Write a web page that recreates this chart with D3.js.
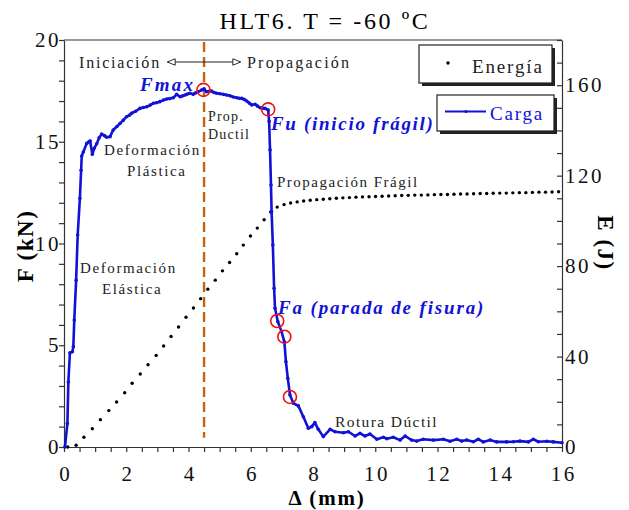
<!DOCTYPE html>
<html>
<head>
<meta charset="utf-8">
<script src="https://cdn.jsdelivr.net/npm/d3@7"></script>
<style>
  body { margin: 0; background: #fff; }
  text { font-family: "Liberation Serif", "DejaVu Serif", serif; }
</style>
</head>
<body>
<div id="chart"></div>
<script>
// carga (kN) vs desplazamiento (mm)
const loadX = [0.03, 0.11, 0.14, 0.19, 0.27, 0.30, 0.33, 0.39, 0.44, 0.51, 0.55, 0.57, 0.62, 0.73, 0.80, 0.84,
  0.91, 0.97, 1.05, 1.13, 1.21, 1.30, 1.37, 1.48, 1.58, 1.70, 1.80, 1.90, 2.01, 2.10, 2.17, 2.30, 2.44,
  2.55, 2.66, 2.77, 2.87, 2.97, 3.08, 3.20, 3.30, 3.40, 3.51, 3.62, 3.73, 3.80, 3.89, 3.97, 4.05, 4.15,
  4.23, 4.31, 4.42, 4.50, 4.58, 4.66, 4.74, 4.82, 4.90, 5.01, 5.12, 5.22, 5.33, 5.44, 5.55, 5.63, 5.71,
  5.79, 5.87, 5.95, 6.03, 6.14, 6.22, 6.30, 6.38, 6.46, 6.56, 6.59, 6.62, 6.65, 6.67, 6.71, 6.75, 6.78,
  6.87, 6.99, 7.08, 7.13, 7.19, 7.26, 7.37, 7.53, 7.69, 7.85, 7.96, 8.06, 8.17, 8.33, 8.55, 8.71, 8.98,
  9.14, 9.35, 9.51, 9.67, 9.83, 10.05, 10.26, 10.37, 10.58, 10.80, 10.96, 11.17, 11.33, 11.54, 11.87,
  12.19, 12.40, 12.62, 12.78, 12.94, 13.15, 13.31, 13.47, 13.69, 13.90, 14.22, 14.44, 14.65, 14.92,
  15.08, 15.24, 15.51, 15.72, 16.00];
const loadF = [0.0, 1.16, 3.2, 4.63, 4.68, 4.93, 6.24, 8.2, 10.42, 12.22, 13.6, 14.3, 14.5, 14.92, 15.0, 15.04,
  14.38, 14.68, 14.9, 15.2, 15.38, 15.3, 15.22, 15.25, 15.58, 15.75, 15.9, 16.05, 16.23, 16.3, 16.4, 16.5, 16.64,
  16.68, 16.72, 16.8, 16.89, 16.92, 16.97, 17.05, 17.1, 17.12, 17.16, 17.33, 17.21, 17.25, 17.3, 17.35, 17.38, 17.33,
  17.4, 17.46, 17.54, 17.59, 17.46, 17.48, 17.49, 17.42, 17.38, 17.36, 17.33, 17.3, 17.26, 17.2, 17.16, 17.14, 17.13,
  17.08, 17.0, 16.9, 16.81, 16.84, 16.75, 16.67, 16.65, 16.64, 16.56, 16.0, 14.6, 12.87, 11.56, 9.93, 7.8, 6.82,
  6.16, 5.67, 5.17, 4.19, 3.38, 2.56, 2.15, 2.02, 1.49, 0.92, 1.0, 1.2, 0.87, 0.51, 0.87, 0.75, 0.70,
  0.75, 0.54, 0.67, 0.54, 0.64, 0.38, 0.48, 0.41, 0.48, 0.34, 0.54, 0.34, 0.29, 0.38, 0.34,
  0.38, 0.28, 0.38, 0.29, 0.34, 0.26, 0.38, 0.25, 0.34, 0.25, 0.25, 0.26, 0.29, 0.25,
  0.38, 0.26, 0.28, 0.25, 0.21];

// energía (J)
const energyX = [0.12, 0.39, 0.64, 0.91, 1.17, 1.44, 1.69, 1.95, 2.19, 2.45, 2.70, 2.96, 3.20, 3.44, 3.68, 3.92,
  4.16, 4.39, 4.62, 4.86, 5.09, 5.32, 5.55, 5.76, 5.99, 6.21, 6.43, 6.64, 6.85, 7.07, 7.28, 7.49, 7.70, 7.91,
  8.12, 8.33, 8.54, 8.75, 8.96, 9.17, 9.38, 9.59, 9.80, 10.01, 10.22, 10.43, 10.64, 10.85, 11.06, 11.27,
  11.48, 11.69, 11.90, 12.11, 12.32, 12.53, 12.74, 12.95, 13.16, 13.37, 13.58, 13.79, 14.00, 14.21, 14.42,
  14.63, 14.84, 15.05, 15.26, 15.47, 15.68, 15.89];
const energyE = [0.0, 0.75, 4.3, 8.1, 12.1, 16.1, 19.9, 24.0, 28.2, 32.3, 36.4, 40.5, 44.7, 48.9, 53.1, 57.4,
  61.5, 65.6, 69.8, 73.8, 77.9, 81.6, 85.5, 89.3, 93.3, 96.8, 100.5, 103.9, 106.1, 107.2, 107.9, 108.4, 108.8, 109.1,
  109.4, 109.6, 109.8, 110.0, 110.2, 110.3, 110.5, 110.6, 110.7, 110.8, 110.9, 111.0, 111.1, 111.2, 111.3, 111.4,
  111.4, 111.5, 111.6, 111.7, 111.7, 111.8, 111.9, 111.9, 112.0, 112.1, 112.1, 112.2, 112.3, 112.3, 112.4,
  112.5, 112.5, 112.6, 112.7, 112.7, 112.8, 112.9];

// puntos marcados (Fmax, Fu, Fa...)
const markX = [4.48, 6.56, 6.85, 7.08, 7.26];
const markF = [17.55, 16.59, 6.19, 5.42, 2.46];

const xTicks = [0, 2, 4, 6, 8, 10, 12, 14, 16];
const fTicks = [0, 5, 10, 15, 20];
const eTicks = [0, 40, 80, 120, 160];

const blue = "#1212d6";
const W = 629, H = 510;
const margin = {top: 40, right: 67, bottom: 63, left: 64};
const width = W - margin.left - margin.right,
  height = H - margin.top - margin.bottom;

const svg = d3.select("#chart").append("svg")
  .attr("width", W).attr("height", H);
const g = svg.append("g")
  .attr("transform", "translate(" + margin.left + "," + margin.top + ")");

const x = d3.scaleLinear().domain([0, 16]).range([0, width]);
const yF = d3.scaleLinear().domain([0, 20]).range([height, 0]);
const yE = d3.scaleLinear().domain([0, 180]).range([height, 0]);

// axes
function styleAxis(sel) {
  sel.selectAll("path, line").attr("stroke", "#333").attr("stroke-width", 1.2);
  sel.selectAll("text").attr("font-size", 21).attr("fill", "#111").attr("letter-spacing", 2.5)
    .attr("font-family", "Liberation Serif, serif");
}
g.append("g").attr("transform", "translate(0," + height + ")")
  .call(d3.axisBottom(x).tickValues(d3.range(0, 16.01, 0.5)).tickSize(5).tickSizeOuter(0)
    .tickFormat(d => xTicks.includes(d) ? d : ""))
  .call(styleAxis)
  .call(s => s.selectAll("text").attr("y", 19).attr("dy", "0.71em").attr("dx", 1.2));
g.append("g")
  .call(d3.axisLeft(yF).tickValues(d3.range(0, 20.01, 1)).tickSize(5).tickSizeOuter(0)
    .tickFormat(d => fTicks.includes(d) ? d : ""))
  .call(styleAxis)
  .call(s => s.selectAll("text").attr("x", -3));
g.append("g").attr("transform", "translate(" + width + ",0)")
  .call(d3.axisRight(yE).tickValues(d3.range(0, 180.01, 10)).tickSize(-5).tickSizeOuter(0)
    .tickFormat(d => eTicks.includes(d) ? d : ""))
  .call(styleAxis)
  .call(s => s.selectAll("text").attr("x", 3));
g.append("line").attr("x1", 0).attr("x2", width).attr("y1", 0).attr("y2", 0)
  .attr("stroke", "#333").attr("stroke-width", 1.2);

// axis titles
svg.append("text").attr("x", 325).attr("y", 29).attr("text-anchor", "middle")
  .attr("font-size", 24).attr("letter-spacing", 2.6).text("HLT6. T = -60 ºC");
svg.append("text").attr("transform", "translate(33,246) rotate(-90)").attr("text-anchor", "middle")
  .attr("font-size", 23).attr("font-weight", "bold").attr("letter-spacing", 1.5).text("F (kN)");
svg.append("text").attr("transform", "translate(598,243) rotate(90)").attr("text-anchor", "middle")
  .attr("font-size", 23).attr("font-weight", "bold").attr("letter-spacing", 1.5).text("E (J)");
svg.append("text").attr("x", 327).attr("y", 505).attr("text-anchor", "middle")
  .attr("font-size", 21).attr("font-weight", "bold").attr("letter-spacing", 1.8).text("Δ (mm)");

// vertical dashed line at Fmax
g.append("line").attr("x1", x(4.5)).attr("x2", x(4.5)).attr("y1", 2).attr("y2", yF(0.45))
  .attr("stroke", "#c8640c").attr("stroke-width", 2.4).attr("stroke-dasharray", "10,5");

// energy dots
g.selectAll(".edot").data(energyX).enter().append("circle")
  .attr("cx", d => x(d)).attr("cy", (d, i) => yE(energyE[i])).attr("r", 1.7).attr("fill", "#000");

// load curve
const loadPts = loadX.map((d, i) => [d, loadF[i]]);
g.append("path").datum(loadPts)
  .attr("d", d3.line().x(d => x(d[0])).y(d => yF(d[1])))
  .attr("fill", "none").attr("stroke", blue).attr("stroke-width", 2.6).attr("stroke-linejoin", "round");
g.selectAll(".ldot").data(loadPts).enter().append("circle")
  .attr("cx", d => x(d[0])).attr("cy", d => yF(d[1])).attr("r", 1.8).attr("fill", blue);

// red circles
g.selectAll(".mark").data(markX).enter().append("circle")
  .attr("cx", d => x(d)).attr("cy", (d, i) => yF(markF[i])).attr("r", 6.5)
  .attr("fill", "none").attr("stroke", "#f01010").attr("stroke-width", 1.6);

// annotations
function label(tx, ty, str, opts) {
  opts = opts || {};
  return svg.append("text").attr("x", tx).attr("y", ty)
    .attr("font-size", opts.size || 15)
    .attr("letter-spacing", opts.ls === undefined ? 1.6 : opts.ls)
    .attr("fill", opts.color || "#222")
    .attr("font-weight", opts.bold ? "bold" : null)
    .attr("font-style", opts.italic ? "italic" : null)
    .text(str);
}
label(79, 68, "Iniciación", {size: 16, ls: 1.8});
label(247, 68, "Propagación", {size: 16, ls: 2.2});
label(208, 121, "Prop.", {size: 14, ls: 1.2});
label(208, 139, "Ductil", {size: 14, ls: 1.2});
label(104, 155, "Deformación");
label(127, 176, "Plástica");
label(277, 187, "Propagación Frágil", {ls: 1.5});
label(80, 273, "Deformación");
label(102, 294, "Elástica");
label(335, 427, "Rotura Dúctil", {size: 15.5, ls: 1.4});
label(140, 91, "Fmax", {size: 19, bold: true, italic: true, color: blue, ls: 2.2});
label(271, 130, "Fu (inicio frágil)", {size: 19, bold: true, italic: true, color: blue, ls: 1.7});
label(278, 314, "Fa (parada de fisura)", {size: 19, bold: true, italic: true, color: blue, ls: 1.85});

// arrows Iniciación <-|-> Propagación
const defs = svg.append("defs");
defs.append("marker").attr("id", "tri").attr("viewBox", "0 0 10 10").attr("refX", 9).attr("refY", 5)
  .attr("markerWidth", 9).attr("markerHeight", 8).attr("orient", "auto-start-reverse")
  .attr("markerUnits", "userSpaceOnUse")
  .append("path").attr("d", "M0,1 L10,5 L0,9 Z").attr("fill", "#fff").attr("stroke", "#222").attr("stroke-width", 1.2);
svg.append("line").attr("x1", 204).attr("x2", 168).attr("y1", 62).attr("y2", 62)
  .attr("stroke", "#222").attr("stroke-width", 1).attr("marker-end", "url(#tri)");
svg.append("line").attr("x1", 204).attr("x2", 240).attr("y1", 62).attr("y2", 62)
  .attr("stroke", "#222").attr("stroke-width", 1).attr("marker-end", "url(#tri)");

// legend boxes with shadow
function legendBox(bx, by, bw, bh) {
  svg.append("rect").attr("x", bx + 3).attr("y", by + 3).attr("width", bw).attr("height", bh).attr("fill", "#222");
  svg.append("rect").attr("x", bx).attr("y", by).attr("width", bw).attr("height", bh)
    .attr("fill", "#fff").attr("stroke", "#222").attr("stroke-width", 1.2);
}
legendBox(419, 45, 133, 38);
svg.append("circle").attr("cx", 448).attr("cy", 63).attr("r", 1.7).attr("fill", "#000");
label(472, 73, "Energía", {size: 19, ls: 1.85});
legendBox(437, 95, 117, 36);
svg.append("line").attr("x1", 445).attr("x2", 486).attr("y1", 111.5).attr("y2", 111.5)
  .attr("stroke", blue).attr("stroke-width", 2);
svg.append("circle").attr("cx", 466).attr("cy", 111.5).attr("r", 1.6).attr("fill", blue);
label(490, 120, "Carga", {size: 19, ls: 1.8, color: blue});
</script>
</body>
</html>
